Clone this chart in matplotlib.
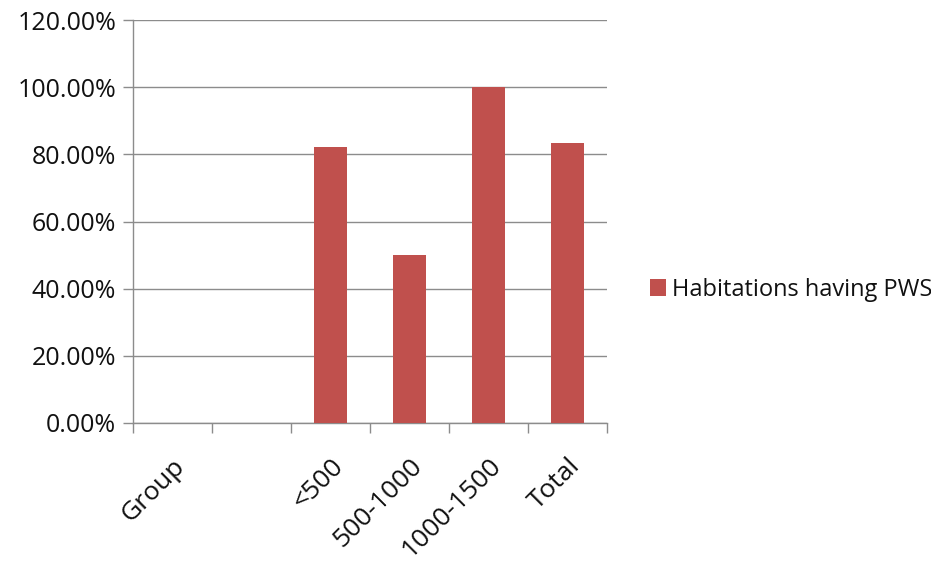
import matplotlib.pyplot as plt
import numpy as np
from matplotlib.ticker import FuncFormatter

plt.rcParams['font.family'] = ['Open Sans', 'DejaVu Sans']

categories = ['Group', '', '<500', '500-1000', '1000-1500', 'Total']
values = [np.nan, np.nan, 82.2, 50.0, 100.0, 83.3]
series_name = 'Habitations having PWS'

fig = plt.figure(figsize=(9.31, 5.66), dpi=100)
ax = fig.add_axes([133 / 931, 1 - 423 / 566, 474 / 931, 403 / 566])

x = np.arange(len(categories))
ax.bar(x, values, width=0.42, color='#C0504D', label=series_name, zorder=3)

ax.set_xlim(-0.5, len(categories) - 0.5)
ax.set_ylim(0, 120)
ax.set_yticks(np.arange(0, 121, 20))
ax.yaxis.set_major_formatter(FuncFormatter(lambda v, p: '%.2f%%' % v))
ax.grid(axis='y', color='#8c8c8c', linewidth=1.0, zorder=0)

# category boundaries as ticks, labels at centres
ax.set_xticks(np.arange(-0.5, len(categories), 1.0))
ax.set_xticklabels([])
ax.set_xticks(x, minor=True)
ax.set_xticklabels(categories, minor=True, rotation=45, ha='right', va='top',
                   rotation_mode='anchor', fontsize=19, color='#111111')
ax.tick_params(axis='x', which='minor', length=0, pad=22)
ax.tick_params(axis='x', which='major', length=7, color='#8c8c8c', width=1.0)
ax.tick_params(axis='y', length=7, color='#8c8c8c', width=1.0, labelsize=18,
               labelcolor='#111111', pad=5)

for s in ['top', 'right']:
    ax.spines[s].set_visible(False)
for s in ['left', 'bottom']:
    ax.spines[s].set_color('#8c8c8c')
    ax.spines[s].set_linewidth(1.0)

ax.legend(loc='center left', bbox_to_anchor=(1.09, 0.33), frameon=False,
          fontsize=17, handlelength=0.7, handleheight=0.7, handletextpad=0.25,
          borderpad=0, borderaxespad=0, labelcolor='#111111')

fig.savefig('out.png', dpi=100)
